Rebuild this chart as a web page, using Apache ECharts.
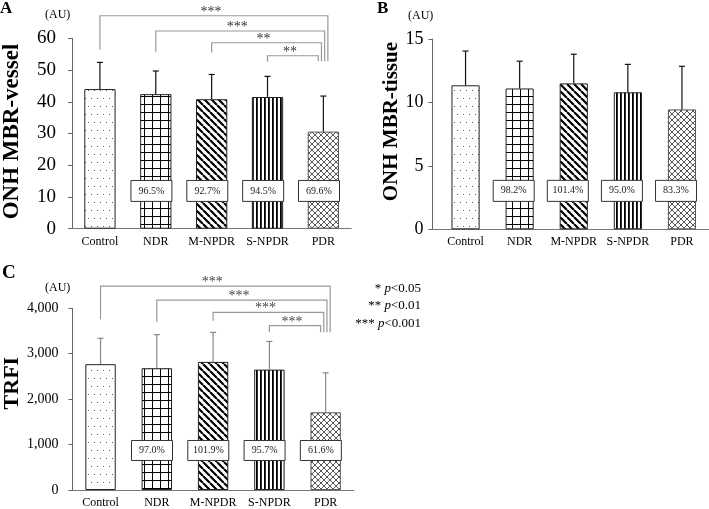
<!DOCTYPE html>
<html>
<head>
<meta charset="utf-8">
<script src="https://cdn.jsdelivr.net/npm/echarts@6/dist/echarts.min.js"></script>
<style>
  html, body { margin: 0; padding: 0; background: #fff; }
  #chart { width: 709px; height: 509px; }
</style>
</head>
<body>
<div id="chart"></div>
<script>
// groups on the x axis
const categories = ['Control', 'NDR', 'M-NPDR', 'S-NPDR', 'PDR'];

// A: ONH MBR-vessel (mean and mean+SD)
const vesselMean = [44.0, 42.4, 40.8, 41.5, 30.6];
const vesselUpper = [52.4, 49.7, 48.6, 48.0, 41.8];
const vesselPct = ['', '96.5%', '92.7%', '94.5%', '69.6%'];

// B: ONH MBR-tissue
const tissueMean = [11.35, 11.1, 11.5, 10.8, 9.45];
const tissueUpper = [14.05, 13.25, 13.8, 13.0, 12.85];
const tissuePct = ['', '98.2%', '101.4%', '95.0%', '83.3%'];

// C: TRFI
const trfiMean = [2770, 2680, 2820, 2650, 1710];
const trfiUpper = [3340, 3420, 3470, 3270, 2580];
const trfiPct = ['', '97.0%', '101.9%', '95.7%', '61.6%'];

// significance brackets (all go to PDR)
const vesselBrFrom = [0, 1, 2, 3];
const vesselBrTop = [67.1, 62.3, 58.6, 54.5];
const vesselBrLeftEnd = [56.5, 55.8, 55.5, 52.6];
const vesselStars = ['***', '***', '**', '**'];
const trfiBrFrom = [0, 1, 2, 3];
const trfiBrTop = [4489, 4182, 3912, 3618];
const trfiBrLeftEnd = [3759, 3706, 3728, 3474];
const trfiStars = ['***', '***', '***', '***'];

// p-value key
const keyStars = ['* ', '** ', '*** '];
const keyLimits = ['<0.05', '<0.01', '<0.001'];

const FONT = "'Liberation Serif', 'Times New Roman', serif";

function pattern(kind) {
  const size = { dots: [6, 16], grid: [8, 8], diag: [7, 7], vert: [4, 4], cross: [6, 6] }[kind];
  const c = document.createElement('canvas');
  c.width = size[0]; c.height = size[1];
  const g = c.getContext('2d');
  g.fillStyle = '#fff';
  g.fillRect(0, 0, c.width, c.height);
  if (kind === 'dots') {
    g.fillStyle = '#555';
    g.fillRect(1, 2, 1, 1);
    g.fillRect(4, 10, 1, 1);
  } else if (kind === 'grid') {
    g.fillStyle = '#000';
    g.fillRect(0, 0, 8, 1);
    g.fillRect(0, 0, 1, 8);
  } else if (kind === 'vert') {
    g.fillStyle = '#000';
    g.fillRect(0, 0, 1.8, 4);
  } else {
    const s = size[0];
    g.strokeStyle = kind === 'diag' ? '#000' : '#555';
    g.lineWidth = kind === 'diag' ? 2.2 : 1;
    g.beginPath();
    for (const k of [-1, 0, 1]) {
      g.moveTo(k * s, 0); g.lineTo(k * s + s, s);
      if (kind === 'cross') { g.moveTo(k * s + s, 0); g.lineTo(k * s, s); }
    }
    g.stroke();
  }
  return { image: c, repeat: 'repeat' };
}
const fills = ['dots', 'grid', 'diag', 'vert', 'cross'].map(pattern);

function barSeries(idx, mean, ratio) {
  return {
    type: 'bar', xAxisIndex: idx, yAxisIndex: idx, barWidth: ratio * 100 + '%',
    data: mean.map((v, i) => ({
      value: v,
      itemStyle: { color: fills[i], borderColor: i === 4 ? '#555' : '#222', borderWidth: 1 }
    }))
  };
}

function errorSeries(idx, mean, upper, color) {
  return {
    type: 'custom', xAxisIndex: idx, yAxisIndex: idx, z: 5,
    data: mean.map((m, i) => [i, m, upper[i]]),
    encode: { x: 0, y: [1, 2] },
    renderItem(params, api) {
      const lo = api.coord([api.value(0), api.value(1)]);
      const hi = api.coord([api.value(0), api.value(2)]);
      const st = { stroke: color, lineWidth: 1.2 };
      return { type: 'group', children: [
        { type: 'line', shape: { x1: lo[0], y1: lo[1], x2: hi[0], y2: hi[1] }, style: st },
        { type: 'line', shape: { x1: hi[0] - 3, y1: hi[1], x2: hi[0] + 3, y2: hi[1] }, style: st }
      ] };
    }
  };
}

function boxSeries(idx, pct, range, ratio) {
  return {
    type: 'custom', xAxisIndex: idx, yAxisIndex: idx, z: 6,
    data: pct.map((p, i) => [i, range[0], range[1]]).filter(d => pct[d[0]]),
    encode: { x: 0, y: [1, 2] },
    renderItem(params, api) {
      const i = api.value(0);
      const band = api.size([1, 0])[0];
      const top = api.coord([i, api.value(2)]);
      const bot = api.coord([i, api.value(1)]);
      const right = top[0] + band * ratio / 2 + 0.5;
      const w = 41;
      return { type: 'group', children: [
        { type: 'rect', shape: { x: right - w, y: top[1], width: w, height: bot[1] - top[1] },
          style: { fill: '#fff', stroke: '#333', lineWidth: 1 } },
        { type: 'text', style: { text: pct[i], x: right - w / 2, y: (top[1] + bot[1]) / 2,
          align: 'center', verticalAlign: 'middle', fontFamily: FONT, fontSize: 10, fill: '#222' } }
      ] };
    }
  };
}

function bracketSeries(idx, from, top, leftEnd, rightEnd, stars, color, starColor) {
  return {
    type: 'custom', xAxisIndex: idx, yAxisIndex: idx, z: 4, clip: false,
    data: from.map((f, k) => [f, 4, top[k], leftEnd[k], rightEnd]),
    encode: { x: [0, 1], y: [2, 3, 4] },
    renderItem(params, api) {
      const k = params.dataIndex;
      const pl = api.coord([api.value(0), api.value(2)]);
      const pr = api.coord([api.value(1), api.value(2)]);
      const xr = pr[0] + 4.5 - 3.2 * k;
      const yl = api.coord([api.value(0), api.value(3)])[1];
      const yr = api.coord([api.value(1), api.value(4)])[1];
      return { type: 'group', children: [
        { type: 'polyline', shape: { points: [[pl[0], yl], [pl[0], pl[1]], [xr, pl[1]], [xr, yr]] },
          style: { stroke: color, lineWidth: 1.2, fill: null } },
        { type: 'text', style: { text: stars[k], x: (pl[0] + xr) / 2 - 3, y: pl[1] + 3.5,
          align: 'center', verticalAlign: 'bottom', fontFamily: FONT, fontSize: 14, fill: starColor } }
      ] };
    }
  };
}

function xAxis(idx) {
  return {
    gridIndex: idx, type: 'category', data: categories,
    axisTick: { show: false },
    axisLine: { lineStyle: { color: '#777', width: 1 } },
    axisLabel: { interval: 0, fontFamily: FONT, fontSize: 12, color: '#000', margin: 7 }
  };
}

function yAxis(idx, max, interval, name, o) {
  return {
    gridIndex: idx, type: 'value', min: 0, max: max, interval: interval,
    offset: o.offset || 0,
    splitLine: { show: false },
    axisLine: { show: true, lineStyle: { color: '#666' } },
    axisTick: { show: true, length: 4, lineStyle: { color: '#666' } },
    axisLabel: { fontFamily: FONT, fontSize: o.labelSize, color: '#000', margin: o.margin,
      formatter: v => v.toLocaleString('en-US') },
    name: name, nameLocation: 'middle', nameRotate: 90, nameGap: o.gap,
    nameTextStyle: { fontFamily: FONT, fontWeight: 'bold', fontSize: o.nameSize, color: '#000',
      padding: [0, 0, 0, o.shift] }
  };
}

const label = (text, left, top, size, bold) => ({
  text: text, left: left, top: top, padding: 0,
  textStyle: { fontFamily: FONT, fontSize: size, fontWeight: bold ? 'bold' : 'normal', color: '#000' }
});

const keyText = keyStars.map((s, k) => ({
  type: 'text', right: 288, top: 282 + k * 17.5,
  style: {
    text: '{s|' + s + '}{i|p}{s|' + keyLimits[k] + '}',
    rich: {
      s: { fontFamily: FONT, fontSize: 13, fill: '#000' },
      i: { fontFamily: FONT, fontSize: 13, fontStyle: 'italic', fill: '#000' }
    }
  }
}));

const chart = echarts.init(document.getElementById('chart'), null, { renderer: 'canvas' });
chart.setOption({
  animation: false,
  backgroundColor: '#fff',
  title: [
    label('A', 0, 0, 17, true),
    label('(AU)', 45, 9, 12, false),
    label('B', 377, 0, 17, true),
    label('(AU)', 408, 10, 12, false),
    label('C', 2, 264, 19, true),
    label('(AU)', 45, 282, 12, false)
  ],
  graphic: [
    { type: 'line', shape: { x1: 432.5, y1: 229.5, x2: 439, y2: 229.5 }, style: { stroke: '#777', lineWidth: 1 } }
  ].concat(keyText),
  grid: [
    { left: 69.3, top: 38.3, width: 282, height: 190.4 },
    { left: 438.5, top: 39, width: 270.5, height: 190.3 },
    { left: 69.8, top: 308.3, width: 284, height: 182.4 }
  ],
  xAxis: [xAxis(0), xAxis(1), xAxis(2)],
  yAxis: [
    yAxis(0, 60, 10, 'ONH MBR-vessel', { labelSize: 19, margin: 16, gap: 48, nameSize: 23, shift: 4 }),
    yAxis(1, 15, 5, 'ONH MBR-tissue', { offset: 6, labelSize: 18, margin: 9, gap: 27, nameSize: 21, shift: 25 }),
    yAxis(2, 4000, 1000, 'TRFI', { labelSize: 14, margin: 14, gap: 46, nameSize: 22, shift: 32 })
  ],
  series: [
    barSeries(0, vesselMean, 0.56),
    errorSeries(0, vesselMean, vesselUpper, '#111'),
    boxSeries(0, vesselPct, [8.6, 15.2], 0.56),
    bracketSeries(0, vesselBrFrom, vesselBrTop, vesselBrLeftEnd, 52.8, vesselStars, '#999', '#333'),
    barSeries(1, tissueMean, 0.52),
    errorSeries(1, tissueMean, tissueUpper, '#111'),
    boxSeries(1, tissuePct, [2.2, 3.86], 0.52),
    barSeries(2, trfiMean, 0.54),
    errorSeries(2, trfiMean, trfiUpper, '#888'),
    boxSeries(2, trfiPct, [650, 1090], 0.54),
    bracketSeries(2, trfiBrFrom, trfiBrTop, trfiBrLeftEnd, 3474, trfiStars, '#999', '#444')
  ]
});
</script>
</body>
</html>
